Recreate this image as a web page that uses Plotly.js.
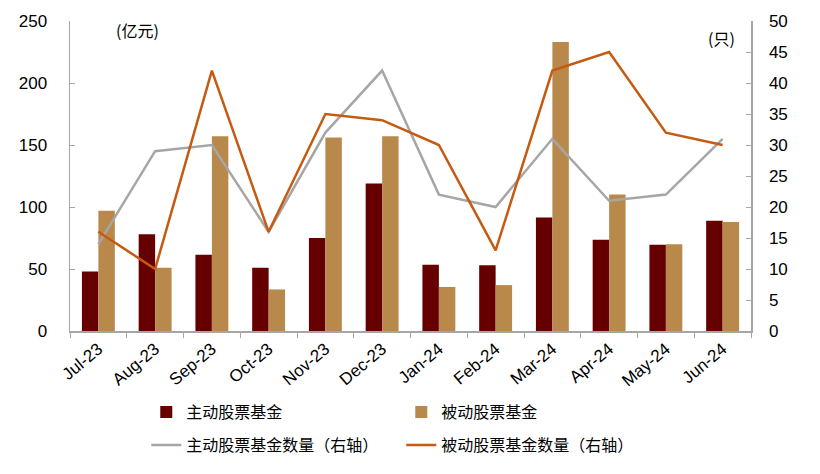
<!DOCTYPE html>
<html><head><meta charset="utf-8">
<script src="https://cdn.plot.ly/plotly-3.0.1.min.js"></script>
<style>body{margin:0;background:#fff}#c{width:820px;height:474px}</style>
</head><body><div id="c"></div>
<script>
const months = ['Jul-23','Aug-23','Sep-23','Oct-23','Nov-23','Dec-23','Jan-24','Feb-24','Mar-24','Apr-24','May-24','Jun-24'];
const activeAmt = [48,78,61.5,51,75,119,53.5,53,91.5,73.5,69.5,89];
const passiveAmt = [97,51,157,33.5,156,157,35.5,37,233,110,70,88];
const activeCnt = [14,29,30,16,32,42,22,20,31,21,22,31];
const passiveCnt = [16,10,42,16,35,34,30,13,42,45,32,30];

const cjk = '"Liberation Sans", Arial, "Noto Sans CJK SC", sans-serif';
const traces = [
  {type:'bar', name:'主动股票基金', x:months, y:activeAmt, marker:{color:'#660000'}, legend:'legend'},
  {type:'bar', name:'被动股票基金', x:months, y:passiveAmt, marker:{color:'#B8894A'}, legend:'legend'},
  {type:'scatter', mode:'lines', name:'主动股票基金数量（右轴）', x:months, y:activeCnt, yaxis:'y2', line:{color:'#A6A6A6', width:2.5}, legend:'legend2'},
  {type:'scatter', mode:'lines', name:'被动股票基金数量（右轴）', x:months, y:passiveCnt, yaxis:'y2', line:{color:'#C55A11', width:2.5}, legend:'legend2'}
];
const layout = {
  width:820, height:474,
  margin:{l:70, r:69, t:21, b:139},
  paper_bgcolor:'#fff', plot_bgcolor:'#fff',
  font:{family:cjk, size:15, color:'#000'},
  barmode:'group', bargap:0.42, bargroupgap:0,
  showlegend:true,
  xaxis:{type:'category', automargin:false, tickangle:-40, tickfont:{size:17}, showline:true, linecolor:'#A6A6A6', linewidth:1.5,
         ticks:'outside', tickson:'boundaries', ticklen:5, tickcolor:'#A6A6A6', showgrid:false, zeroline:false},
  yaxis:{range:[0,250], dtick:50, automargin:false, showline:true, linecolor:'#A6A6A6', linewidth:1.5, ticks:'inside', ticklen:5,
         tickcolor:'#A6A6A6', showgrid:false, zeroline:false, tickfont:{size:17}, ticklabelstandoff:18},
  yaxis2:{range:[0,50], dtick:5, automargin:false, overlaying:'y', side:'right', showline:true, linecolor:'#A6A6A6', linewidth:1.5,
          ticks:'inside', ticklen:5, tickcolor:'#A6A6A6', showgrid:false, zeroline:false, tickfont:{size:17}, ticklabelstandoff:13},
  legend:{orientation:'h', x:0.112, xanchor:'left', y:-0.262, yanchor:'middle', entrywidth:210, entrywidthmode:'pixels',
          font:{size:16, family:'"Noto Sans CJK SC", sans-serif'}, itemwidth:30, tracegroupgap:0},
  legend2:{orientation:'h', x:0.112, xanchor:'left', y:-0.368, yanchor:'middle', entrywidth:210, entrywidthmode:'pixels',
          font:{size:16, family:'"Noto Sans CJK SC", sans-serif'}, itemwidth:30},
  annotations:[
    {text:'(亿元)', xref:'paper', yref:'paper', x:0.065, y:0.97, xanchor:'left', yanchor:'middle', showarrow:false,
     font:{size:16, family:'"Noto Sans CJK SC", sans-serif'}},
    {text:'(只)', xref:'paper', yref:'paper', x:0.98, y:0.945, xanchor:'right', yanchor:'middle', showarrow:false,
     font:{size:16, family:'"Noto Sans CJK SC", sans-serif'}}
  ]
};
Plotly.newPlot('c', traces, layout, {displayModeBar:false, staticPlot:true});
</script></body></html>
